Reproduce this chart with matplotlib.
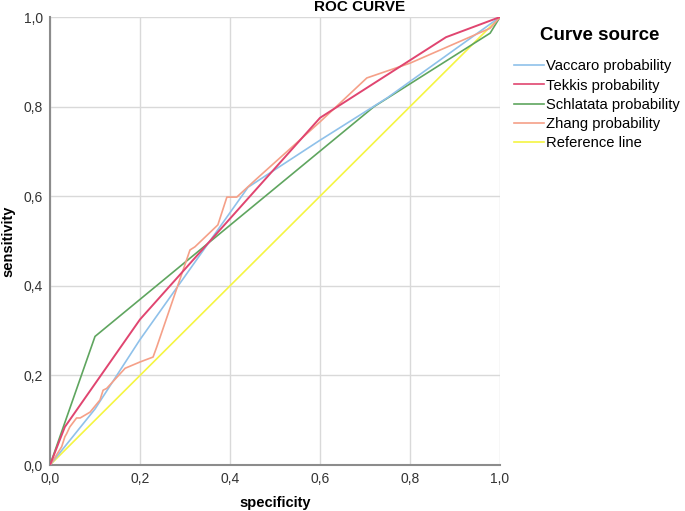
import matplotlib
matplotlib.use("Agg")
import matplotlib.pyplot as plt
from matplotlib.ticker import FuncFormatter

plt.rcParams['font.family'] = ['Liberation Sans', 'DejaVu Sans']

# ROC curves: (1 - specificity, sensitivity)
vaccaro_x = [0.0, 0.1, 0.2, 0.44, 0.6, 0.75, 1.0]
vaccaro_y = [0.0, 0.125, 0.28, 0.62, 0.725, 0.82, 1.0]

tekkis_x = [0.0, 0.033, 0.2, 0.6, 0.88, 1.0]
tekkis_y = [0.0, 0.085, 0.325, 0.775, 0.955, 1.0]

schlatata_x = [0.0, 0.1, 0.72, 0.978, 1.0]
schlatata_y = [0.0, 0.287, 0.80, 0.964, 1.0]

zhang_x = [0.0, 0.008, 0.026, 0.033, 0.037, 0.044, 0.059, 0.067, 0.089, 0.111,
           0.118, 0.126, 0.167, 0.2, 0.229, 0.237, 0.311, 0.322, 0.373, 0.393,
           0.415, 0.456, 0.6, 0.704, 0.8, 0.978, 1.0]
zhang_y = [0.0, 0.012, 0.041, 0.063, 0.07, 0.085, 0.105, 0.105, 0.118, 0.145,
           0.167, 0.171, 0.216, 0.23, 0.241, 0.263, 0.48, 0.487, 0.536, 0.598,
           0.598, 0.636, 0.766, 0.864, 0.897, 0.975, 1.0]

ref_x = [0.0, 1.0]
ref_y = [0.0, 1.0]

labels = ["Vaccaro probability", "Tekkis probability", "Schlatata probability",
          "Zhang probability", "Reference line"]
colors = ["#8fc1ea", "#e04570", "#5fa55f", "#f5a088", "#f5f542"]
ticks = [0.0, 0.2, 0.4, 0.6, 0.8, 1.0]

fig = plt.figure(figsize=(6.85, 5.11), dpi=100)
ax = fig.add_axes([0.073, 0.09, 0.657, 0.8767])

# reference line drawn first so the curves sit on top
ax.plot(ref_x, ref_y, color=colors[4], lw=1.2, zorder=2)
ax.plot(schlatata_x, schlatata_y, color=colors[2], lw=1.2, zorder=3)
ax.plot(vaccaro_x, vaccaro_y, color=colors[0], lw=1.2, zorder=3)
ax.plot(zhang_x, zhang_y, color=colors[3], lw=1.2, zorder=4)
ax.plot(tekkis_x, tekkis_y, color=colors[1], lw=1.4, zorder=5)

ax.set_xlim(0, 1)
ax.set_ylim(0, 1)
ax.set_xticks(ticks)
ax.set_yticks(ticks)
fmt = FuncFormatter(lambda v, p: f"{v:.1f}".replace(".", ","))
ax.xaxis.set_major_formatter(fmt)
ax.yaxis.set_major_formatter(fmt)
ax.tick_params(length=0, labelsize=10, colors="#333333", pad=5)
ax.grid(True, color="#d9d9d9", lw=1)
ax.set_axisbelow(True)
for s in ["top", "right"]:
    ax.spines[s].set_visible(False)
for s in ["left", "bottom"]:
    ax.spines[s].set_color("#8c8c8c")
    ax.spines[s].set_linewidth(1.5)

ax.set_xlabel("specificity", fontsize=10.5, fontweight="bold", labelpad=7)
ax.set_ylabel("sensitivity", fontsize=10.5, fontweight="bold", labelpad=6)
fig.text(360 / 685, 1 - 7 / 511, "ROC CURVE", ha="center", va="center",
         fontsize=11, fontweight="bold")

# legend title placed by hand, SPSS leaves a wide gap under it
fig.text(600 / 685, 1 - 35 / 511, "Curve source", ha="center", va="center",
         fontsize=13.5, fontweight="bold")
handles = [plt.Line2D([], [], color=c, lw=1.2) for c in colors]
leg = fig.legend(handles, labels, loc="upper left",
                 bbox_to_anchor=(501 / 685, 1 - 46 / 511), frameon=False,
                 fontsize=10.6, handlelength=2.0, handletextpad=0.15,
                 labelspacing=0.36)

fig.savefig("out.png", dpi=100)
